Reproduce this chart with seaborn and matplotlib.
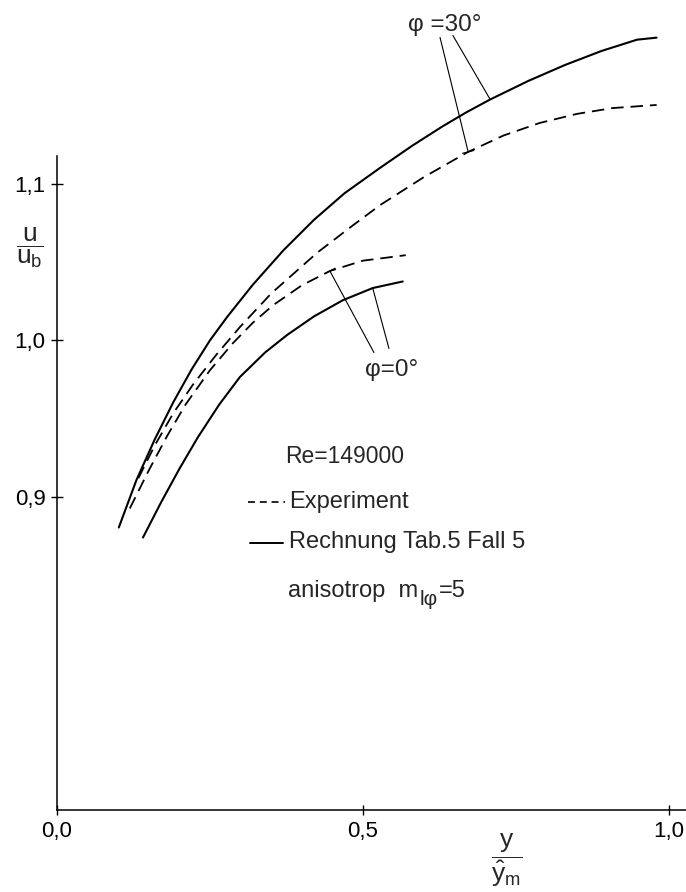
import matplotlib
matplotlib.use("Agg")
import matplotlib.pyplot as plt
import seaborn as sns
import pandas as pd

# --- velocity profiles u/u_b over y/y_m (Re = 149000) ---
# phi = 30 deg, calculation (solid)
x_calc_30 = [0.101, 0.130, 0.160, 0.190, 0.220, 0.250, 0.278, 0.320, 0.370, 0.420, 0.470,
             0.528, 0.580, 0.630, 0.670, 0.708, 0.770, 0.830, 0.890, 0.948, 0.980]
u_calc_30 = [0.8805, 0.9110, 0.9370, 0.9605, 0.9815, 1.0001, 1.0150, 1.0356, 1.0576, 1.0771, 1.0941,
             1.1103, 1.1243, 1.1368, 1.1460, 1.1540, 1.1658, 1.1760, 1.1850, 1.1922, 1.1935]
# phi = 30 deg, experiment (dashed)
x_exp_30 = [0.133, 0.160, 0.190, 0.222, 0.260, 0.299, 0.350, 0.425, 0.480, 0.528,
            0.600, 0.672, 0.730, 0.789, 0.850, 0.908, 0.980]
u_exp_30 = [0.9120, 0.9331, 0.9535, 0.9717, 0.9907, 1.0086, 1.0300, 1.0560, 1.0725, 1.0865,
            1.1045, 1.1205, 1.1310, 1.1390, 1.1448, 1.1485, 1.1505]
# phi = 0 deg, experiment (dashed)
x_exp_0 = [0.119, 0.150, 0.180, 0.210, 0.250, 0.288, 0.320, 0.353, 0.400, 0.446, 0.500, 0.570]
u_exp_0 = [0.8927, 0.9170, 0.9390, 0.9590, 0.9810, 0.9985, 1.0113, 1.0225, 1.0352, 1.0444, 1.0510, 1.0545]
# phi = 0 deg, calculation (solid)
x_calc_0 = [0.1405, 0.170, 0.200, 0.230, 0.265, 0.299, 0.340, 0.376, 0.420, 0.467, 0.516, 0.565]
u_calc_0 = [0.8741, 0.8965, 0.9180, 0.9380, 0.9590, 0.9767, 0.9923, 1.0035, 1.0154, 1.0257, 1.0335, 1.0377]

x_ticks = [0.0, 0.5, 1.0]
y_ticks = [0.9, 1.0, 1.1]

sns.set_theme(style="ticks")
FONT = "Liberation Sans"
plt.rcParams["font.family"] = [FONT, "DejaVu Sans"]
plt.rcParams["mathtext.fontset"] = "custom"
plt.rcParams["mathtext.rm"] = FONT
plt.rcParams["mathtext.it"] = FONT + ":italic"
plt.rcParams["mathtext.sf"] = FONT
plt.rcParams["lines.scale_dashes"] = False

fig = plt.figure(figsize=(6.86, 8.92), dpi=100)
ax = fig.add_axes([57 / 686, 82 / 892, 629 / 686, 806 / 892])
ax.set_xlim(0.0, 1.028)
ax.set_ylim(0.7, 1.215)

dash = (0, (9, 5))
curves = [
    (x_calc_30, u_calc_30, "-"),
    (x_exp_30, u_exp_30, dash),
    (x_exp_0, u_exp_0, dash),
    (x_calc_0, u_calc_0, "-"),
]
for xs, us, ls in curves:
    df = pd.DataFrame({"x": xs, "u": us})
    sns.lineplot(data=df, x="x", y="u", ax=ax, color="black",
                 lw=1.5 if ls == "-" else 1.3, linestyle=ls,
                 solid_capstyle="round", solid_joinstyle="round")

# axes styling
for side in ("top", "right"):
    ax.spines[side].set_visible(False)
for side in ("left", "bottom"):
    ax.spines[side].set_color("black")
    ax.spines[side].set_linewidth(1.1)
ax.spines["left"].set_bounds(0.7, 1.118)

ax.set_xticks(x_ticks)
ax.set_xticklabels([f"{v:.1f}".replace(".", ",") for v in x_ticks])
ax.set_yticks(y_ticks)
ax.set_yticklabels([f"{v:.1f}".replace(".", ",") for v in y_ticks])
ax.tick_params(axis="x", direction="inout", length=6.5, width=1.0,
               labelsize=16, pad=5, colors="black")
ax.tick_params(axis="y", direction="inout", length=8.5, width=1.0,
               labelsize=16, pad=4, colors="black")
ax.set_xlabel("")
ax.set_ylabel("")

# axis titles as stacked fractions
fig.text(30 / 686, (892 - 248) / 892, r"$\dfrac{\mathrm{u}}{\mathrm{u_b}}$",
         fontsize=19, ha="center", va="center")
fig.text(507 / 686, (892 - 860) / 892, r"$\dfrac{\mathrm{y}}{\hat{\mathrm{y}}_\mathrm{m}}$",
         fontsize=19, ha="center", va="center")

# curve labels with leader lines
lead = dict(lw=0.8, color="black", shrinkA=0, shrinkB=0)
bar_end = "|-|, widthA=0, widthB=0.35"

i30e = x_exp_30.index(0.672)
i30c = x_calc_30.index(0.708)
i0e = x_exp_0.index(0.446)
i0c = x_calc_0.index(0.516)

ax.text(0.5735, 1.198, "φ =30°", fontsize=17.5, ha="left", va="baseline")
ax.annotate("", xy=(x_exp_30[i30e], u_exp_30[i30e]), xytext=(0.626, 1.1936),
            arrowprops=dict(arrowstyle=bar_end, **lead))
ax.annotate("", xy=(x_calc_30[i30c], u_calc_30[i30c]), xytext=(0.647, 1.1949),
            arrowprops=dict(arrowstyle="-", **lead))

ax.text(0.503, 0.9776, "φ=0°", fontsize=17.5, ha="left", va="baseline")
ax.annotate("", xy=(x_exp_0[i0e], u_exp_0[i0e]), xytext=(0.518, 0.9923),
            arrowprops=dict(arrowstyle=bar_end, **lead))
ax.annotate("", xy=(x_calc_0[i0c], u_calc_0[i0c]), xytext=(0.5425, 0.9949),
            arrowprops=dict(arrowstyle="-", **lead))

# key block
ax.text(0.3725, 0.9214, "Re=149000", fontsize=16.5, ha="left", va="baseline")
ax.plot([0.312, 0.372], [0.8965, 0.8965], color="black", lw=1.2,
        linestyle=(0, (5, 3.5)))
ax.text(0.379, 0.8927, "Experiment", fontsize=17, ha="left", va="baseline")
ax.plot([0.315, 0.369], [0.8703, 0.8703], color="black", lw=1.4)
ax.text(0.379, 0.8677, "Rechnung Tab.5 Fall 5", fontsize=17, ha="left", va="baseline")

t_main = ax.text(0.377, 0.8358, "anisotrop  m", fontsize=17, ha="left", va="baseline")
t_sub = ax.annotate("lφ", xy=(1, 0), xycoords=t_main, xytext=(1, -5),
                    textcoords="offset points", fontsize=15, ha="left", va="bottom")
ax.annotate("=5", xy=(1, 0), xycoords=(t_sub, t_main), xytext=(1, 0),
            textcoords="offset points", fontsize=17, ha="left", va="bottom")

fig.savefig("out.png", dpi=100)
